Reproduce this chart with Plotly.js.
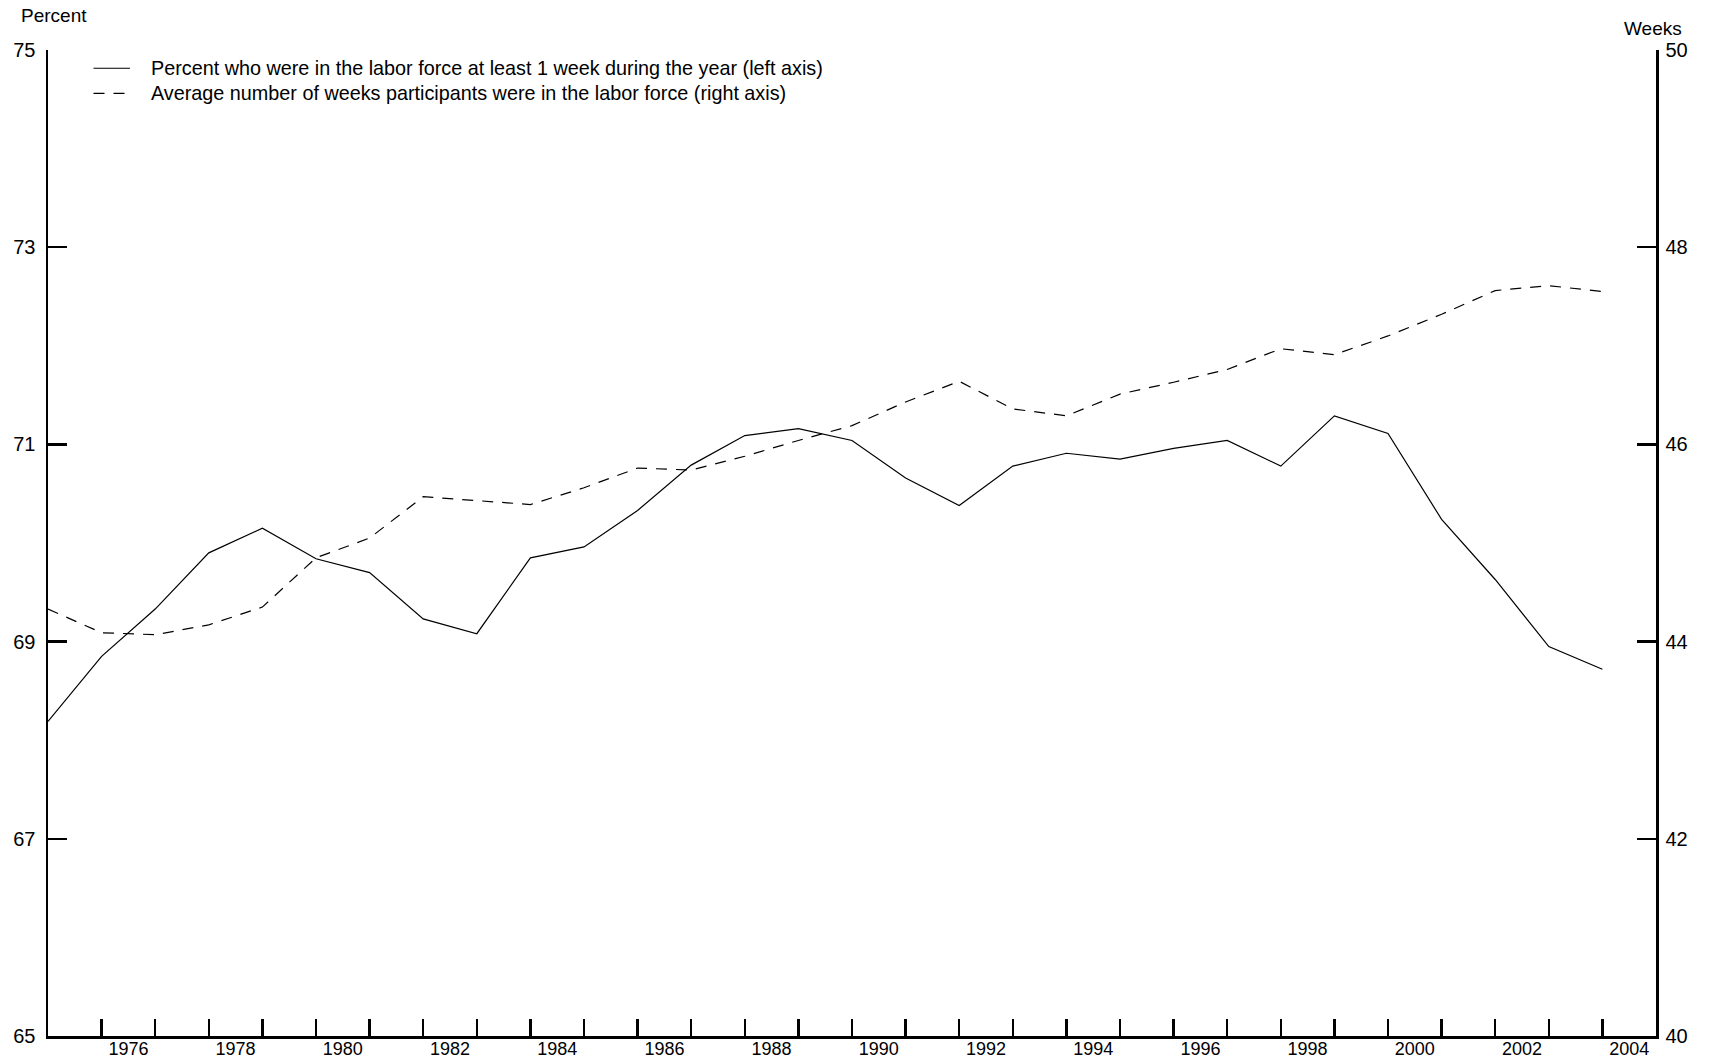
<!DOCTYPE html>
<html>
<head>
<meta charset="utf-8">
<script src="https://cdn.plot.ly/plotly-3.0.1.min.js"></script>
<style>
  html, body { margin: 0; padding: 0; background: #ffffff; }
  #chart { width: 1712px; height: 1060px; }
</style>
</head>
<body>
<div id="chart"></div>
<script>
// ---- Data ----
const years = [1975, 1976, 1977, 1978, 1979, 1980, 1981, 1982, 1983, 1984,
               1985, 1986, 1987, 1988, 1989, 1990, 1991, 1992, 1993, 1994,
               1995, 1996, 1997, 1998, 1999, 2000, 2001, 2002, 2003, 2004];

// Percent who were in the labor force at least 1 week during the year (left axis)
const pctInLaborForce = [68.19, 68.85, 69.33, 69.90, 70.15, 69.84, 69.70, 69.23, 69.08, 69.85,
                         69.96, 70.33, 70.79, 71.09, 71.16, 71.04, 70.66, 70.38, 70.78, 70.91,
                         70.85, 70.96, 71.04, 70.78, 71.29, 71.11, 70.24, 69.63, 68.95, 68.72];

// Average number of weeks participants were in the labor force (right axis)
const avgWeeks = [44.33, 44.09, 44.07, 44.17, 44.35, 44.85, 45.05, 45.47, 45.43, 45.39,
                  45.56, 45.76, 45.74, 45.88, 46.04, 46.19, 46.43, 46.64, 46.36, 46.29,
                  46.51, 46.63, 46.76, 46.97, 46.91, 47.10, 47.32, 47.56, 47.61, 47.55];

// Tick marks sit on the year points; year labels sit between them
const tickYears = [1976, 1977, 1978, 1979, 1980, 1981, 1982, 1983, 1984, 1985,
                   1986, 1987, 1988, 1989, 1990, 1991, 1992, 1993, 1994, 1995,
                   1996, 1997, 1998, 1999, 2000, 2001, 2002, 2003, 2004];
const labelYears = ['1976', '1978', '1980', '1982', '1984', '1986', '1988', '1990',
                    '1992', '1994', '1996', '1998', '2000', '2002', '2004'];
const leftTicks = [65, 67, 69, 71, 73, 75];
const rightTicks = [40, 42, 44, 46, 48, 50];

const seriesNames = [
  'Percent who were in the labor force at least 1 week during the year (left axis)',
  'Average number of weeks participants were in the labor force (right axis)'
];

// ---- Plot ----
const FONT = 'Liberation Sans, Arial, Helvetica, sans-serif';
const labelPositions = labelYears.map(y => Number(y) + 0.5);
const SOLID = { color: '#000000', width: 1.2 };
const DASHED = { color: '#000000', width: 1.2, dash: '11px,9px' };

const traces = [
  {
    x: years, y: pctInLaborForce, xaxis: 'x', yaxis: 'y',
    type: 'scatter', mode: 'lines', name: seriesNames[0],
    line: SOLID, showlegend: false
  },
  {
    x: years, y: avgWeeks, xaxis: 'x2', yaxis: 'y2',
    type: 'scatter', mode: 'lines', name: seriesNames[1],
    line: DASHED, showlegend: false
  }
];

// Legend drawn as key lines + labels (paper coordinates)
const legendRows = [0.9815, 0.9560];
const legendLineX = [0.0283, 0.0510];
const legendTextX = 0.0631;
const legendShapes = [SOLID, DASHED].map((ln, i) => ({
  type: 'line', xref: 'paper', yref: 'paper',
  x0: legendLineX[0], x1: legendLineX[1], y0: legendRows[i], y1: legendRows[i],
  line: ln
}));
const legendLabels = seriesNames.map((name, i) => ({
  text: name, xref: 'paper', yref: 'paper', x: legendTextX, y: legendRows[i],
  xanchor: 'left', yanchor: 'middle', showarrow: false,
  font: { family: FONT, size: 19.8, color: '#000000' }
}));

const layout = {
  width: 1712, height: 1060,
  margin: { l: 48, r: 56, t: 50, b: 24, pad: 0 },
  paper_bgcolor: '#ffffff', plot_bgcolor: '#ffffff',
  font: { family: FONT, size: 18, color: '#000000' },
  showlegend: false,
  xaxis: {
    range: [1975, 2005], showgrid: false, zeroline: false,
    tickmode: 'array', tickvals: labelPositions, ticktext: labelYears,
    ticks: '', showline: true, linecolor: '#000000', linewidth: 2.5,
    tickfont: { family: FONT, size: 18, color: '#000000' },
    ticklabelstandoff: -5,
    anchor: 'y', side: 'bottom', fixedrange: true
  },
  xaxis2: {
    range: [1975, 2005], overlaying: 'x', anchor: 'y', side: 'bottom',
    showgrid: false, zeroline: false, showline: false,
    tickmode: 'array', tickvals: tickYears, showticklabels: false,
    ticks: 'inside', ticklen: 17, tickwidth: 2.5, tickcolor: '#000000'
  },
  yaxis: {
    range: [65, 75], showgrid: false, zeroline: false,
    tickmode: 'array', tickvals: leftTicks, ticktext: leftTicks.map(String),
    ticks: 'inside', ticklen: 19, tickwidth: 2.5, tickcolor: '#000000',
    showline: true, linecolor: '#000000', linewidth: 2.5,
    tickfont: { family: FONT, size: 20, color: '#000000' },
    ticklabelstandoff: 6, side: 'left', anchor: 'x'
  },
  yaxis2: {
    range: [40, 50], overlaying: 'y', side: 'right', anchor: 'x',
    showgrid: false, zeroline: false,
    tickmode: 'array', tickvals: rightTicks, ticktext: rightTicks.map(String),
    ticks: 'inside', ticklen: 19, tickwidth: 2.5, tickcolor: '#000000',
    showline: true, linecolor: '#000000', linewidth: 2.5,
    tickfont: { family: FONT, size: 20, color: '#000000' },
    ticklabelstandoff: 3
  },
  shapes: legendShapes,
  annotations: [
    { text: 'Percent', xref: 'paper', yref: 'paper', x: -0.018, y: 1.035,
      xanchor: 'left', yanchor: 'middle', showarrow: false,
      font: { family: FONT, size: 19, color: '#000000' } },
    { text: 'Weeks', xref: 'paper', yref: 'paper', x: 1.0172, y: 1.022,
      xanchor: 'right', yanchor: 'middle', showarrow: false,
      font: { family: FONT, size: 19, color: '#000000' } }
  ].concat(legendLabels)
};

Plotly.newPlot('chart', traces, layout, { displayModeBar: false, staticPlot: true });
</script>
</body>
</html>
